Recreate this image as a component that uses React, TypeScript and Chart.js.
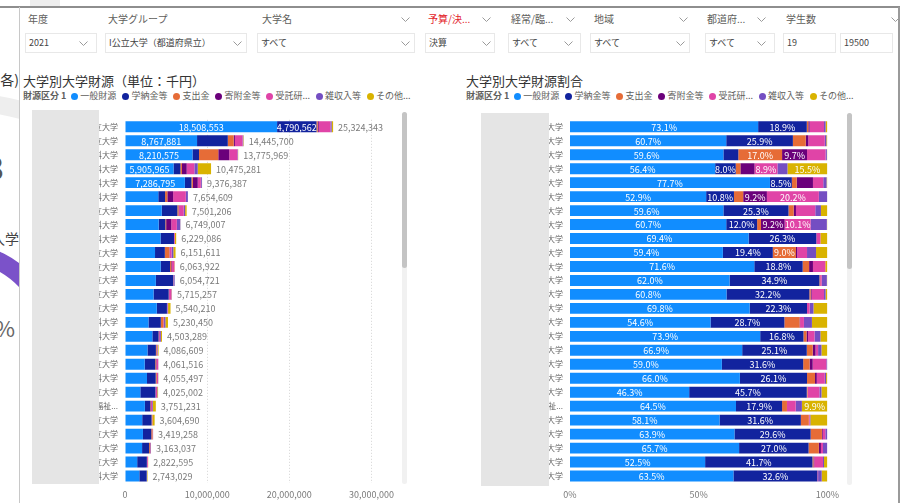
import React, { useEffect, useRef } from "react";
import { Chart, registerables } from "chart.js";
Chart.register(...registerables);

const FONT = "'Noto Sans CJK JP', 'Noto Sans', sans-serif";
Chart.defaults.font.family = FONT;

// ---- data ----
const universities = [
  "〇〇県立大学", "〇〇県立大学", "〇〇医科大学", "〇〇医科大学", "〇〇医科大学",
  "〇〇医科大学", "〇〇県立大学", "〇〇医科大学", "〇〇医科大学", "〇〇県立大学",
  "〇〇県立大学", "〇〇県立大学", "〇〇県立大学", "〇〇県立大学", "〇〇医科大学",
  "〇〇医科大学", "〇〇県立大学", "〇〇県立大学", "〇〇医科大学", "〇〇県立大学",
  "〇〇県立保健福祉...", "〇〇県立大学", "〇〇県立大学", "〇〇県立大学", "〇〇県立大学",
  "〇〇医科大学",
];
const totals = [
  25324343, 14445700, 13775969, 10475281, 9376387, 7654609, 7501206, 6749007, 6229086,
  6151611, 6063922, 6054721, 5715257, 5540210, 5230450, 4503289, 4086609, 4061516,
  4055497, 4025002, 3751231, 3604690, 3419258, 3163037, 2822595, 2743029,
];
const seriesNames = ["一般財源", "学納金等", "支出金", "寄附金等", "受託研...", "雑収入等", "その他..."];
const seriesColors = ["#118DFF", "#12239E", "#E66C37", "#6B007B", "#E044A7", "#744EC2", "#D9B300"];

// shares (%) per series, same row order as universities
const shareGeneral = [73.1, 60.7, 59.6, 56.4, 77.7, 52.9, 59.6, 60.7, 69.4, 59.4, 71.6, 62.0, 60.8, 69.8, 54.6, 73.9, 66.9, 59.0, 66.0, 46.3, 64.5, 58.1, 63.9, 65.7, 52.5, 63.5];
const shareTuition = [18.9, 25.9, 5.8, 8.0, 8.5, 10.8, 25.3, 12.0, 26.3, 19.4, 18.8, 34.9, 32.2, 22.3, 28.7, 16.8, 25.1, 31.6, 26.1, 45.7, 17.9, 31.6, 29.6, 27.0, 41.7, 32.6];
const shareSubsidy = [0.6, 5.0, 17.0, 1.8, 1.9, 3.6, 2.0, 1.5, 0, 9.0, 2.5, 0.3, 0.5, 0, 5.9, 1.2, 2.3, 2.5, 3.1, 0.3, 1.9, 3.1, 4.4, 4.0, 0.4, 0];
const shareDonation = [0.5, 1.0, 9.7, 5.5, 6.3, 9.2, 0.9, 9.2, 0, 0.5, 1.5, 0, 0.4, 0, 0.2, 0.6, 1.1, 1.2, 0.7, 0, 0, 0, 0.3, 0.8, 0.3, 0];
const shareCommission = [5.6, 6.4, 7.2, 8.9, 4.0, 20.2, 7.5, 10.1, 1.6, 3.8, 4.8, 0.6, 4.8, 1.0, 1.5, 2.5, 1.0, 5.3, 3.1, 4.6, 3.4, 0.3, 1.0, 0.8, 3.4, 0.3];
const shareMisc = [0.6, 0.6, 0.5, 3.9, 1.3, 3.3, 2.2, 6.3, 0, 3.5, 0, 2.0, 0.6, 1.5, 3.1, 2.3, 1.3, 0.4, 0.5, 0.8, 2.4, 0.3, 0.8, 1.7, 0.4, 1.4];
const shareOther = [0.7, 0.4, 0.2, 15.5, 0.3, 0, 2.5, 0.2, 2.7, 4.4, 0.8, 0.2, 0.7, 5.4, 6.0, 2.7, 2.3, 0, 0.5, 2.3, 9.9, 6.6, 0, 0, 1.3, 2.2];

// amounts printed on the left chart
const knownGeneral = [18508553, 8767881, 8210575, 5905965, 7286795];
const knownTuition = [4790562];

const amountTicks = [0, 10000000, 20000000, 30000000];
const shareTicks = [0, 50, 100];

const shares = [shareGeneral, shareTuition, shareSubsidy, shareDonation, shareCommission, shareMisc, shareOther];
const amounts = shares.map((arr, s) =>
  arr.map((p, i) => {
    if (s === 0 && knownGeneral[i] !== undefined) return knownGeneral[i];
    if (s === 1 && knownTuition[i] !== undefined) return knownTuition[i];
    return Math.round((totals[i] * p) / 100);
  })
);

const AMOUNT_LABEL_MIN = 4500000;
const SHARE_LABEL_MIN = 8;

type Kind = "amount" | "share";

function labelPlugin(kind: Kind) {
  return {
    id: "barLabels_" + kind,
    afterDatasetsDraw(chart: any) {
      const ctx = chart.ctx;
      ctx.save();
      ctx.font = `9px ${FONT}`;
      ctx.textBaseline = "middle";
      chart.data.datasets.forEach((ds: any, di: number) => {
        const meta = chart.getDatasetMeta(di);
        meta.data.forEach((el: any, i: number) => {
          const v = ds.data[i] as number;
          let txt = "";
          if (kind === "share") {
            if (v < SHARE_LABEL_MIN) return;
            txt = v.toFixed(1) + "%";
          } else {
            if (v < AMOUNT_LABEL_MIN) return;
            txt = v.toLocaleString("en-US");
          }
          ctx.fillStyle = "#ffffff";
          ctx.textAlign = "center";
          ctx.fillText(txt, (el.x + el.base) / 2, el.y + 0.5);
        });
      });
      if (kind === "amount") {
        const last = chart.getDatasetMeta(chart.data.datasets.length - 1);
        last.data.forEach((el: any, i: number) => {
          ctx.fillStyle = "#7a7a7a";
          ctx.textAlign = "left";
          ctx.fillText(totals[i].toLocaleString("en-US"), el.x + 5, el.y + 0.5);
        });
      }
      ctx.restore();
    },
  };
}

function BarChart({ kind, left, top }: { kind: Kind; left: number; top: number }) {
  const ref = useRef<HTMLCanvasElement>(null);
  useEffect(() => {
    const data = kind === "amount" ? amounts : shares;
    const tickVals = kind === "amount" ? amountTicks : shareTicks;
    const chart = new Chart(ref.current as HTMLCanvasElement, {
      type: "bar",
      data: {
        labels: universities,
        datasets: seriesNames.map((name, s) => ({
          label: name,
          data: data[s],
          backgroundColor: seriesColors[s],
          borderWidth: 0,
          barPercentage: 0.78,
          categoryPercentage: 1,
        })),
      },
      options: {
        animation: false,
        responsive: false,
        indexAxis: "y",
        layout: { padding: { top: 8, right: kind === "amount" ? 23 : 9, left: 0, bottom: 0 } },
        plugins: { legend: { display: false }, tooltip: { enabled: false } },
        scales: {
          x: {
            stacked: true,
            min: 0,
            max: kind === "amount" ? 30000000 : 100,
            afterBuildTicks: (s: any) => {
              s.ticks = tickVals.map((v) => ({ value: v }));
            },
            ticks: {
              callback: (v: any) =>
                kind === "amount" ? Number(v).toLocaleString("en-US") : v + "%",
              font: { size: 9 },
              color: "#7a7a7a",
              padding: 6,
              maxRotation: 0,
              autoSkip: false,
            },
            grid: {
              display: kind === "amount",
              drawTicks: false,
              color: (c: any) => (c.tick && c.tick.value === 0 ? "rgba(0,0,0,0)" : "#D4D4D4"),
            },
            border: { display: false, dash: [1, 2] },
            afterFit: (s: any) => {
              s.height = 20;
            },
          },
          y: {
            stacked: true,
            ticks: { font: { size: 8 }, color: "#666666", padding: 7, autoSkip: false },
            grid: { display: false, drawTicks: false },
            border: { display: false },
            afterFit: (s: any) => {
              s.width = 105;
            },
          },
        },
      } as any,
      plugins: [labelPlugin(kind)],
    });
    return () => chart.destroy();
  }, [kind]);
  return (
    <canvas
      ref={ref}
      width={380}
      height={395}
      style={{ position: "absolute", left, top, width: 380, height: 395, zIndex: 1 }}
    />
  );
}

function Chev({ x, y }: { x: number; y: number }) {
  return (
    <svg style={{ position: "absolute", left: x - 4.5, top: y - 2.5 }} width={9} height={5}>
      <polyline points="0.5,0.5 4.5,4.5 8.5,0.5" fill="none" stroke="#9a9a9a" strokeWidth={1} />
    </svg>
  );
}

function Legend({ left }: { left: number }) {
  return (
    <div
      style={{
        position: "absolute",
        left,
        top: 90,
        height: 12,
        display: "flex",
        alignItems: "center",
        fontSize: 9,
        lineHeight: "12px",
        color: "#605E5C",
        whiteSpace: "nowrap",
      }}
    >
      <span style={{ fontWeight: 700, marginRight: 5 }}>財源区分 1</span>
      {seriesNames.map((n, i) => (
        <span key={n} style={{ display: "flex", alignItems: "center", marginRight: 6 }}>
          <span
            style={{
              width: 7,
              height: 7,
              borderRadius: "50%",
              background: seriesColors[i],
              display: "inline-block",
              marginRight: 2,
            }}
          />
          {n}
        </span>
      ))}
    </div>
  );
}

function Scrollbar({ left, top }: { left: number; top: number }) {
  return (
    <div style={{ position: "absolute", left, top, width: 5, height: 372, background: "#F1F1F1", borderRadius: 3, zIndex: 2 }}>
      <div style={{ width: 5, height: 156, background: "#C4C4C4", borderRadius: 3 }} />
    </div>
  );
}

const headers = [
  { t: "年度", x: 28 },
  { t: "大学グループ", x: 108 },
  { t: "大学名", x: 262, c: 405 },
  { t: "予算/決...", x: 428, c: 486, red: true },
  { t: "経常/臨...", x: 511, c: 570 },
  { t: "地域", x: 594, c: 683 },
  { t: "都道府...", x: 707, c: 761 },
  { t: "学生数", x: 786, c: 895 },
];
const boxes = [
  { x: 25, w: 72, t: "2021", c: 83 },
  { x: 105, w: 142, t: "I公立大学（都道府県立）", c: 237 },
  { x: 257, w: 158, t: "すべて", c: 405 },
  { x: 425, w: 70, t: "決算", c: 486 },
  { x: 508, w: 73, t: "すべて", c: 568 },
  { x: 590, w: 100, t: "すべて", c: 680 },
  { x: 705, w: 70, t: "すべて", c: 761 },
  { x: 783, w: 53, t: "19" },
  { x: 840, w: 53, t: "19500" },
];

export default function App() {
  return (
    <div
      style={{
        position: "fixed",
        left: 0,
        top: 0,
        width: 906,
        height: 503,
        background: "#ffffff",
        overflow: "hidden",
        fontFamily: FONT,
      }}
    >
      {/* remnants of neighbouring visual on the left */}
      <div style={{ position: "absolute", left: 30, top: 0, width: 30, height: 6, background: "#EDEDED" }} />
      <svg style={{ position: "absolute", left: 0, top: 0 }} width={19} height={503}>
        <path d="M -40 102 A 238 238 0 0 1 40 116" fill="none" stroke="#EEEEEE" strokeWidth={18} />
        <path d="M -40 252 A 91 91 0 0 1 30 286" fill="none" stroke="#7B52C9" strokeWidth={18} />
      </svg>
      <div style={{ position: "absolute", right: 887, top: 70, fontSize: 14, color: "#333", whiteSpace: "nowrap", lineHeight: "18px" }}>各)</div>
      <div style={{ position: "absolute", right: 902, top: 146, fontSize: 32, color: "#555", lineHeight: "40px" }}>3</div>
      <div style={{ position: "absolute", right: 887, top: 229, fontSize: 14, color: "#444", whiteSpace: "nowrap", lineHeight: "18px" }}>入学</div>
      <div style={{ position: "absolute", right: 891, top: 314, fontSize: 22, color: "#666", lineHeight: "26px" }}>%</div>

      {/* frame */}
      <div style={{ position: "absolute", left: 0, top: 6, width: 900, height: 2, background: "#8E8E8E" }} />
      <div style={{ position: "absolute", left: 19, top: 7, width: 1, height: 496, background: "#C8C8C8" }} />
      <div style={{ position: "absolute", left: 898, top: 7, width: 2, height: 496, background: "#9A9A9A" }} />

      {/* slicers */}
      {headers.map((h) => (
        <React.Fragment key={h.t}>
          <div
            style={{
              position: "absolute",
              left: h.x,
              top: 12,
              fontSize: 10,
              lineHeight: "14px",
              color: h.red ? "#E3242B" : "#605E5C",
              whiteSpace: "nowrap",
            }}
          >
            {h.t}
          </div>
          {h.c ? <Chev x={h.c} y={19} /> : null}
        </React.Fragment>
      ))}
      {boxes.map((b, i) => (
        <React.Fragment key={i}>
          <div
            style={{
              position: "absolute",
              left: b.x,
              top: 33,
              width: b.w,
              height: 20,
              border: "1px solid #E8E8E8",
              boxSizing: "border-box",
              fontSize: 9,
              lineHeight: "18px",
              color: "#444",
              paddingLeft: 3,
              whiteSpace: "nowrap",
            }}
          >
            {b.t}
          </div>
          {b.c ? <Chev x={b.c} y={43} /> : null}
        </React.Fragment>
      ))}

      {/* titles */}
      <div style={{ position: "absolute", left: 23, top: 72, fontSize: 13, lineHeight: "17px", color: "#333" }}>
        大学別大学財源（単位：千円）
      </div>
      <div style={{ position: "absolute", left: 466, top: 72, fontSize: 13, lineHeight: "17px", color: "#333" }}>
        大学別大学財源割合
      </div>
      <Legend left={23} />
      <Legend left={466} />

      {/* charts */}
      <BarChart kind="amount" left={20} top={108} />
      <BarChart kind="share" left={465} top={108} />

      {/* masked name area */}
      <div style={{ position: "absolute", left: 32, top: 110, width: 67, height: 374, background: "#E5E5E5", zIndex: 2 }} />
      <div style={{ position: "absolute", left: 481, top: 113, width: 68, height: 373, background: "#E5E5E5", zIndex: 2 }} />

      <Scrollbar left={402} top={112} />
      <Scrollbar left={847} top={113} />
    </div>
  );
}
